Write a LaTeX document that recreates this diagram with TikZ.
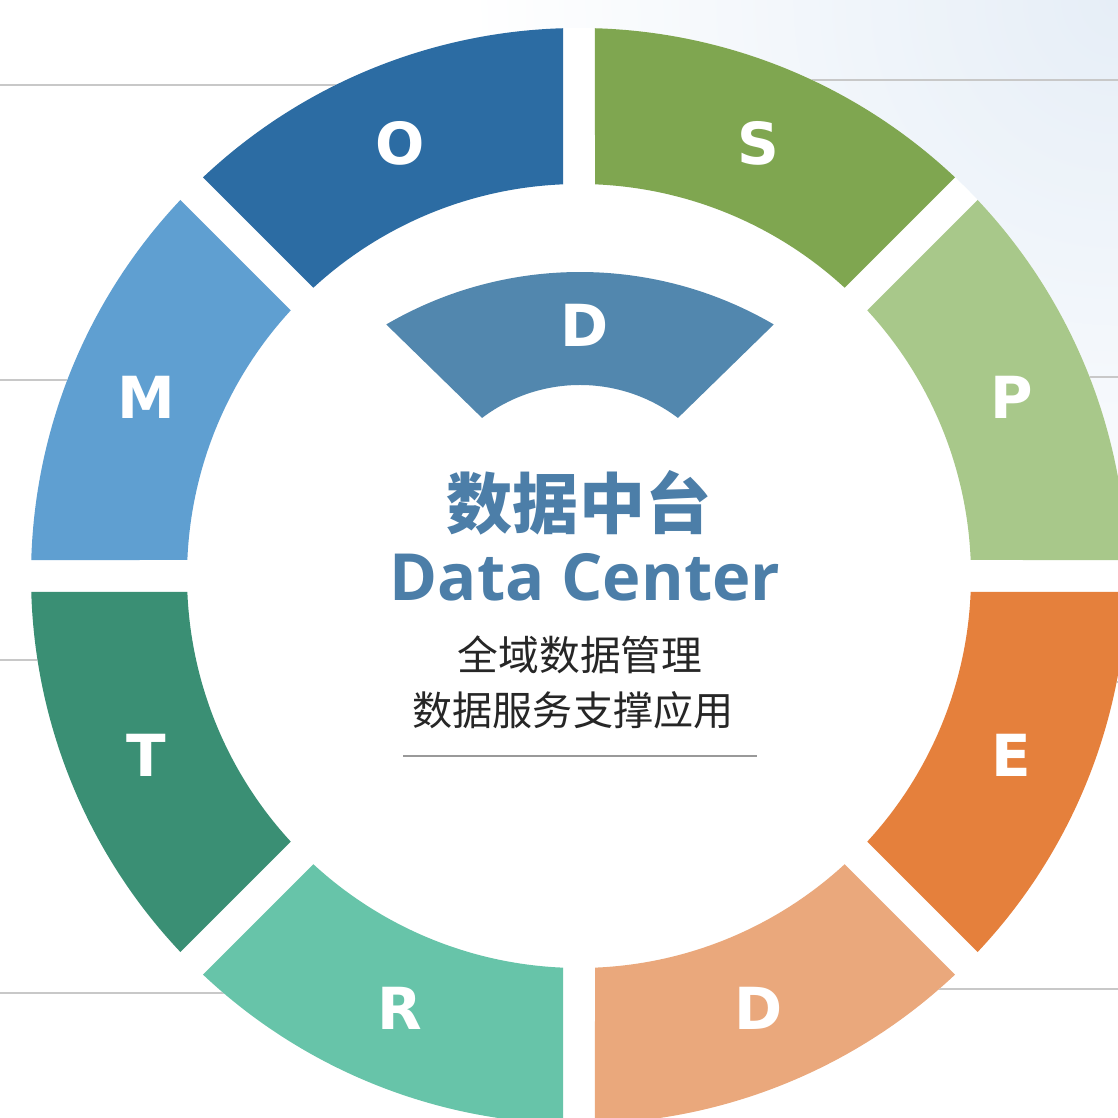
\documentclass[tikz,border=0pt]{standalone}
\usepackage{fontspec}
\usetikzlibrary{calc}
\setmainfont{DejaVu Sans}
\newfontfamily\cjk{Noto Sans CJK SC}
\newfontfamily\titlefont{Open Sans}

\definecolor{segO}{RGB}{44,108,163}
\definecolor{segS}{RGB}{127,166,80}
\definecolor{segP}{RGB}{168,200,138}
\definecolor{segE}{RGB}{229,128,60}
\definecolor{segD}{RGB}{234,168,124}
\definecolor{segR}{RGB}{103,196,169}
\definecolor{segT}{RGB}{58,143,116}
\definecolor{segM}{RGB}{95,159,209}
\definecolor{coreblue}{RGB}{82,135,174}
\definecolor{textblue}{RGB}{76,126,168}
\definecolor{bgblue}{RGB}{230,238,247}
\definecolor{rulegray}{RGB}{200,200,200}

\tikzset{
  gridline/.style={rulegray, line width=0.6pt},
  seglabel/.style={white, font=\fontsize{16.5}{16.5}\selectfont\bfseries, inner sep=0pt},
}

\begin{document}
\begin{tikzpicture}
                        \useasboundingbox (0,0) rectangle (11.18,11.18);
                        \clip (0,0) rectangle (11.18,11.18);
                        \shade[inner color=bgblue, outer color=white] (11.18,11.18) circle (6.5);
                        % grey lines behind the ring
                        \draw[gridline] (0,10.33) -- (5.79,10.33);
                        \draw[gridline] (0,7.38) -- (5.79,7.38);
                        \draw[gridline] (0,4.58) -- (5.79,4.58);
                        \draw[gridline] (0,1.25) -- (5.79,1.25);
                        \draw[gridline] (5.79,10.38) -- (11.18,10.38);
                        \draw[gridline] (5.79,7.41) -- (11.18,7.41);
                        \draw[gridline] (5.79,4.36) -- (11.18,4.36);
                        \draw[gridline] (5.79,1.29) -- (11.18,1.29);
                        \fill[white] (5.79,5.42) circle (5.48);
                        \begin{scope}[shift={(5.79,5.42)}]
                            \foreach \a/\col/\lab/\nm in {0/segP/P/p, 45/segS/S/s, 90/segO/O/o, 135/segM/M/m, 180/segT/T/t, 225/segR/R/r, 270/segD/D/d, 315/segE/E/e}
                                {\fill[\col] (\a+1.67:5.48) arc[start angle=\a+1.67, end angle=\a+43.33, radius=5.48]
                                    -- (\a+42.66:3.92) arc[start angle=\a+42.66, end angle=\a+2.34, radius=3.92] -- cycle;
                                 \node[seglabel] (\nm) at (\a+22.5:4.68) {\lab};}
                        \end{scope}
                        % inner D block
                        \fill[coreblue] (5.80,4.62) ++(59.7:3.84) arc[start angle=59.7, end angle=120.3, radius=3.84]
                            -- ($(5.80,5.71)+(127.2:1.62)$) arc[start angle=127.2, end angle=52.8, radius=1.62] -- cycle;
                        \node[seglabel] (core) at (5.85,7.93) {D};
                        \node[textblue, font=\cjk\bfseries\fontsize{18.8}{18.8}\selectfont] (title) at (5.79,6.15) {数据中台};
                        \node[textblue, font=\titlefont\bfseries\fontsize{18.5}{18.5}\selectfont] (subtitle) at (5.85,5.41) {Data Center};
                        \node[black!85, font=\cjk\fontsize{11.6}{11.6}\selectfont] (lineone) at (5.80,4.63) {全域数据管理};
                        \node[black!85, font=\cjk\fontsize{11.4}{11.4}\selectfont] (linetwo) at (5.73,4.08) {数据服务支撑应用};
                        \draw[black!40, line width=0.6pt] (4.03,3.62) -- (7.57,3.62);
                    \end{tikzpicture}
\end{document}
